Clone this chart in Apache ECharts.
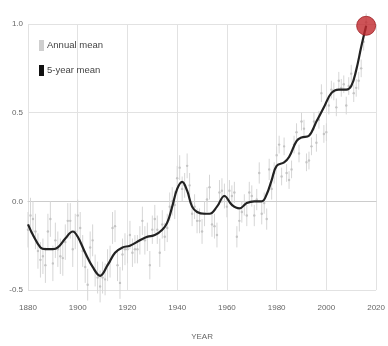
<!DOCTYPE html>
<html>
<head>
<meta charset="utf-8">
<script src="https://cdn.jsdelivr.net/npm/echarts@6/dist/echarts.min.js"></script>
<style>
  html, body { margin: 0; padding: 0; background: #fff; }
  #chart { width: 388px; height: 346px; }
</style>
</head>
<body>
<div id="chart"></div>
<script>
// annual mean, 1880..2016
const annualStart = 1880;
const annualMean = [
  -0.16, -0.08, -0.10, -0.17, -0.28, -0.33, -0.31, -0.36, -0.17, -0.10,
  -0.35, -0.22, -0.27, -0.31, -0.32, -0.23, -0.11, -0.11, -0.27, -0.17,
  -0.08, -0.15, -0.28, -0.37, -0.47, -0.26, -0.22, -0.39, -0.43, -0.48,
  -0.43, -0.44, -0.36, -0.34, -0.15, -0.14, -0.36, -0.46, -0.30, -0.27,
  -0.27, -0.19, -0.29, -0.27, -0.27, -0.22, -0.11, -0.22, -0.20, -0.36,
  -0.16, -0.10, -0.16, -0.29, -0.13, -0.20, -0.15, -0.03, 0.00, -0.02,
  0.13, 0.19, 0.07, 0.09, 0.20, 0.09, -0.07, -0.03, -0.11, -0.11,
  -0.17, -0.07, 0.01, 0.08, -0.13, -0.14, -0.19, 0.05, 0.06, 0.03,
  -0.03, 0.06, 0.03, 0.05, -0.20, -0.11, -0.06, -0.02, -0.08, 0.05,
  0.03, -0.08, 0.01, 0.16, -0.07, -0.01, -0.10, 0.18, 0.07, 0.16,
  0.26, 0.32, 0.14, 0.31, 0.16, 0.12, 0.18, 0.32, 0.39, 0.27,
  0.45, 0.41, 0.22, 0.23, 0.31, 0.45, 0.33, 0.46, 0.61, 0.38,
  0.39, 0.54, 0.63, 0.62, 0.53, 0.68, 0.64, 0.66, 0.54, 0.65,
  0.72, 0.61, 0.64, 0.68, 0.75, 0.90, 1.01
];
// uncertainty half-width per year
const annualErr = [
  0.10, 0.10, 0.10, 0.10, 0.10, 0.10, 0.10, 0.10, 0.10, 0.10,
  0.10, 0.10, 0.10, 0.10, 0.10, 0.10, 0.10, 0.10, 0.10, 0.10,
  0.09, 0.09, 0.09, 0.09, 0.09, 0.09, 0.09, 0.09, 0.09, 0.09,
  0.09, 0.09, 0.09, 0.09, 0.09, 0.09, 0.09, 0.09, 0.09, 0.09,
  0.08, 0.08, 0.08, 0.08, 0.08, 0.08, 0.08, 0.08, 0.08, 0.08,
  0.08, 0.08, 0.08, 0.08, 0.08, 0.08, 0.08, 0.08, 0.08, 0.08,
  0.07, 0.07, 0.07, 0.07, 0.07, 0.07, 0.07, 0.07, 0.07, 0.07,
  0.07, 0.07, 0.07, 0.07, 0.07, 0.07, 0.07, 0.07, 0.07, 0.07,
  0.06, 0.06, 0.06, 0.06, 0.06, 0.06, 0.06, 0.06, 0.06, 0.06,
  0.06, 0.06, 0.06, 0.06, 0.06, 0.06, 0.06, 0.06, 0.06, 0.06,
  0.05, 0.05, 0.05, 0.05, 0.05, 0.05, 0.05, 0.05, 0.05, 0.05,
  0.05, 0.05, 0.05, 0.05, 0.05, 0.05, 0.05, 0.05, 0.05, 0.05,
  0.05, 0.05, 0.05, 0.05, 0.05, 0.05, 0.05, 0.05, 0.05, 0.05,
  0.05, 0.05, 0.05, 0.05, 0.05, 0.05, 0.05
];

// 5-year mean
const smoothYears = [
  1880, 1882, 1885, 1887, 1890, 1892, 1895, 1898, 1900, 1903,
  1906, 1909, 1912, 1915, 1918, 1921, 1925, 1928, 1931, 1934,
  1936, 1938, 1940, 1942, 1944, 1946, 1948, 1951, 1953, 1956,
  1959, 1962, 1965, 1968, 1971, 1974, 1976, 1978, 1980, 1983,
  1985, 1988, 1990, 1993, 1996, 1999, 2002, 2005, 2008, 2010,
  2012, 2014, 2016
];
const smoothMean = [
  -0.13, -0.19, -0.26, -0.27, -0.27, -0.26, -0.21, -0.17, -0.20, -0.29,
  -0.37, -0.42, -0.36, -0.29, -0.26, -0.25, -0.22, -0.20, -0.19, -0.16,
  -0.12, -0.03, 0.07, 0.11, 0.06, -0.03, -0.06, -0.07, -0.07, -0.03,
  0.03, -0.02, -0.04, -0.01, 0.00, 0.00, 0.04, 0.12, 0.20, 0.22,
  0.25, 0.34, 0.36, 0.37, 0.45, 0.53, 0.61, 0.63, 0.63, 0.65,
  0.74, 0.87, 0.99
];

const yTicks = [-0.5, 0.0, 0.5, 1.0];
const xTicks = [1880, 1900, 1920, 1940, 1960, 1980, 2000, 2020];

const annualData = annualMean.map((v, i) => [annualStart + i, v, annualErr[i]]);
const smoothData = smoothYears.map((y, i) => [y, smoothMean[i]]);
const lastPoint = smoothData[smoothData.length - 1];

const chart = echarts.init(document.getElementById('chart'), null, { renderer: 'canvas' });
chart.setOption({
  backgroundColor: '#fff',
  animation: false,
  textStyle: { fontFamily: 'Liberation Sans, Arial, sans-serif' },
  grid: { left: 28, right: 6, top: 24, bottom: 55 },
  legend: {
    orient: 'vertical', left: 34, top: 35, itemGap: 14,
    itemWidth: 5, itemHeight: 11, icon: 'rect',
    textStyle: { color: '#444', fontSize: 9.5, padding: [0, 0, 0, -2] },
    data: ['Annual mean', '5-year mean']
  },
  xAxis: {
    type: 'value', min: 1880, max: 2020, interval: 20,
    name: 'YEAR', nameLocation: 'middle', nameGap: 43,
    nameTextStyle: { color: '#666', fontSize: 8 },
    axisLine: { show: true, lineStyle: { color: '#ccc' } },
    axisTick: { show: false },
    axisLabel: { color: '#666', fontSize: 8, margin: 14,
      formatter: v => xTicks.includes(v) ? String(v) : '' },
    splitLine: { show: true, lineStyle: { color: '#e2e2e2' } }
  },
  yAxis: {
    type: 'value', min: -0.5, max: 1.0, interval: 0.5,
    axisLine: { show: false }, axisTick: { show: false },
    axisLabel: { color: '#666', fontSize: 8, margin: 5,
      formatter: v => yTicks.includes(v) ? v.toFixed(1) : '' },
    splitLine: { lineStyle: { color: '#e2e2e2' } }
  },
  series: [
    {
      name: 'Annual mean', type: 'custom', data: annualData,
      itemStyle: { color: '#cfcfcf' },
      encode: { x: 0, y: 1 },
      renderItem: (params, api) => {
        const x = api.value(0), v = api.value(1), e = api.value(2);
        const top = api.coord([x, v + e]);
        const bot = api.coord([x, v - e]);
        const mid = api.coord([x, v]);
        return {
          type: 'group',
          children: [
            { type: 'line', shape: { x1: top[0], y1: top[1], x2: bot[0], y2: bot[1] },
              style: { stroke: '#d6d6d6', lineWidth: 1 } },
            { type: 'circle', shape: { cx: mid[0], cy: mid[1], r: 1.2 },
              style: { fill: '#c4c4c4' } }
          ]
        };
      }
    },
    {
      name: '5-year mean', type: 'line', data: smoothData, smooth: 0.4,
      symbol: 'none', itemStyle: { color: '#111' },
      lineStyle: { color: '#222', width: 2.2 }, z: 3
    },
    {
      type: 'scatter', data: [lastPoint], symbolSize: 19, z: 4,
      itemStyle: { color: '#c0282d', borderColor: '#9e1e22', borderWidth: 1 }
    }
  ]
});
</script>
</body>
</html>
